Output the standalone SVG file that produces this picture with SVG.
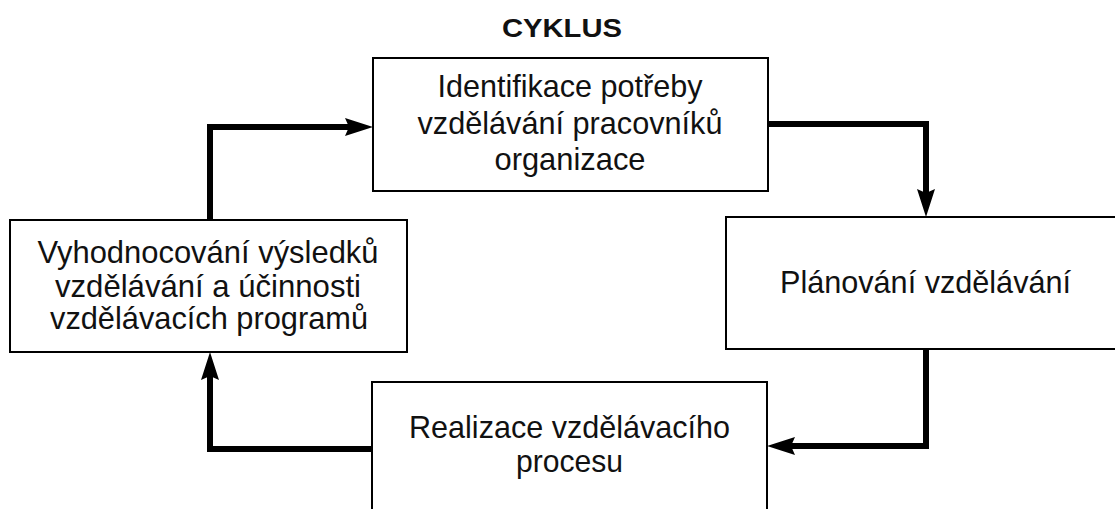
<svg xmlns="http://www.w3.org/2000/svg" width="1115" height="509" viewBox="0 0 1115 509">
<style>
.box{fill:#fff;stroke:#000;stroke-width:2}
.t{font-family:"Liberation Sans",Arial,sans-serif;font-size:30.5px;fill:#111;text-anchor:middle}
.title{font-family:"Liberation Sans",Arial,sans-serif;font-size:26px;font-weight:bold;fill:#111;text-anchor:middle}
.c{fill:none;stroke:#000;stroke-width:6;stroke-linejoin:miter;stroke-linecap:butt}
</style>
<defs>
<marker id="ah" viewBox="0 0 28 18" refX="6" refY="9" markerWidth="28" markerHeight="18" markerUnits="userSpaceOnUse" orient="auto">
<path d="M0,0 L28,9 L0,18 L4,9 z" fill="#000"/>
</marker>
</defs>
<rect width="1115" height="509" fill="#fff"/>
<text class="title" x="562" y="37" textLength="120" lengthAdjust="spacingAndGlyphs">CYKLUS</text>
<g id="connectors">
<path class="c" d="M210,220 V127 H351" marker-end="url(#ah)"/>
<path class="c" d="M768,124 H926 V195" marker-end="url(#ah)"/>
<path class="c" d="M926,349 V446 H789" marker-end="url(#ah)"/>
<path class="c" d="M372,449 H210 V374" marker-end="url(#ah)"/>
</g>
<g id="identifikace">
<rect class="box" x="373" y="58" width="395" height="133"/>
<text class="t" x="570" y="97" textLength="265" lengthAdjust="spacingAndGlyphs">Identifikace potřeby</text>
<text class="t" x="570" y="134" textLength="305" lengthAdjust="spacingAndGlyphs">vzdělávání pracovníků</text>
<text class="t" x="570" y="170" textLength="151" lengthAdjust="spacingAndGlyphs">organizace</text>
</g>
<g id="planovani">
<rect class="box" x="726" y="217" width="400" height="132"/>
<text class="t" x="925.5" y="293" textLength="291" lengthAdjust="spacingAndGlyphs">Plánování vzdělávání</text>
</g>
<g id="realizace">
<rect class="box" x="372" y="382" width="395" height="140"/>
<text class="t" x="569.5" y="438" textLength="321" lengthAdjust="spacingAndGlyphs">Realizace vzdělávacího</text>
<text class="t" x="569.5" y="472" textLength="107" lengthAdjust="spacingAndGlyphs">procesu</text>
</g>
<g id="vyhodnocovani">
<rect class="box" x="10" y="220" width="397" height="132"/>
<text class="t" x="208" y="263" textLength="341" lengthAdjust="spacingAndGlyphs">Vyhodnocování výsledků</text>
<text class="t" x="208" y="297" textLength="306" lengthAdjust="spacingAndGlyphs">vzdělávání a účinnosti</text>
<text class="t" x="209" y="329" textLength="318" lengthAdjust="spacingAndGlyphs">vzdělávacích programů</text>
</g>
</svg>
